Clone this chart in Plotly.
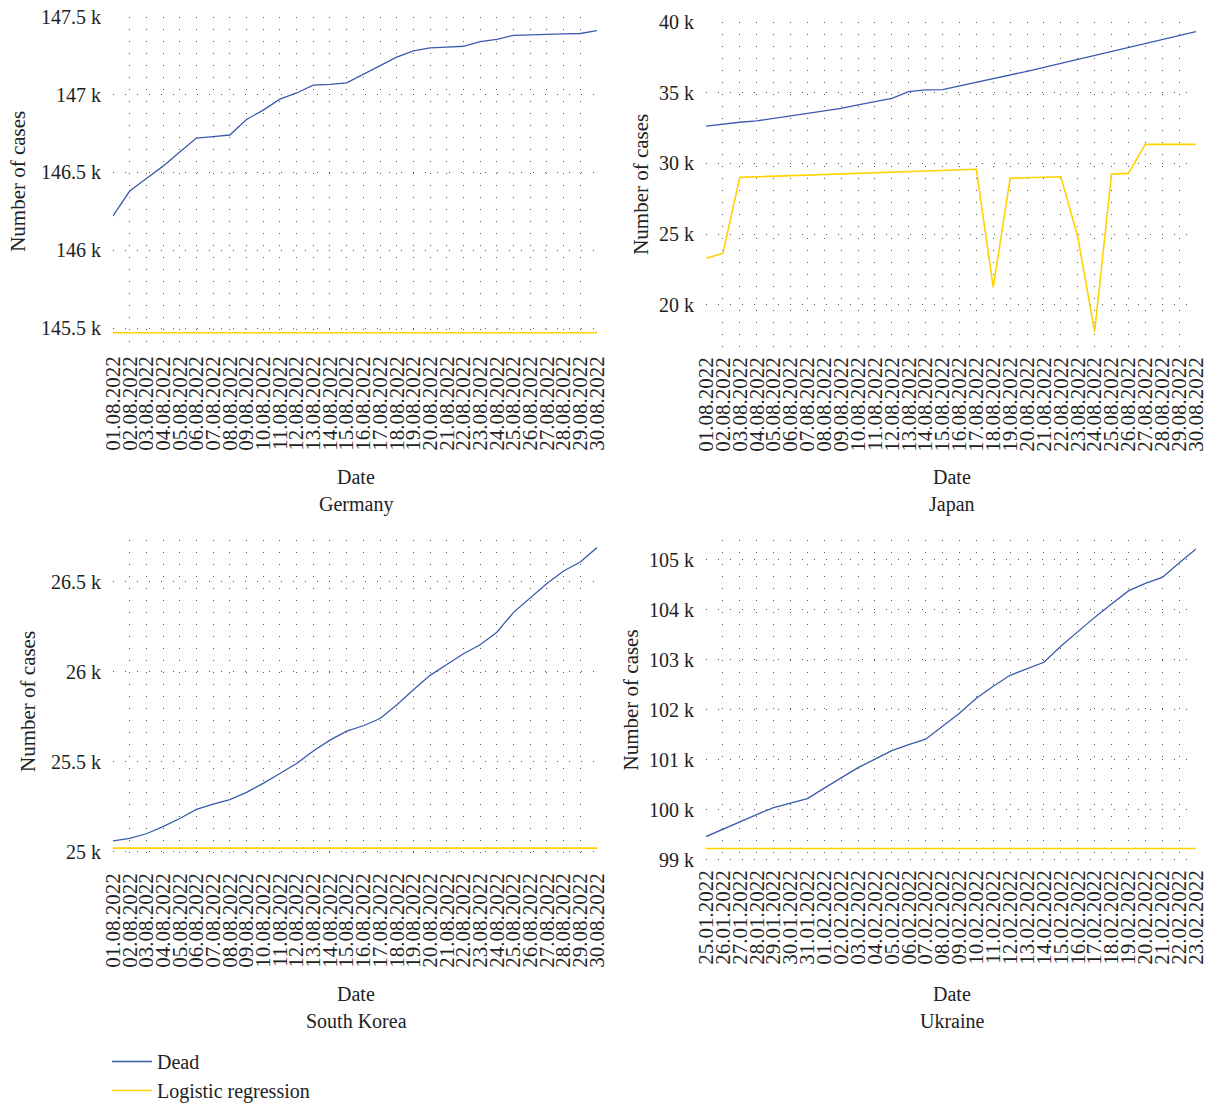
import plotly.graph_objects as go

# ---- data -------------------------------------------------------------
aug_dates = [f"{d:02d}.08.2022" for d in range(1, 31)]
ukr_dates = [f"{d:02d}.01.2022" for d in range(25, 32)] + [f"{d:02d}.02.2022" for d in range(1, 24)]

germany_dead = [146220, 146380, 146460, 146540, 146630, 146720, 146730, 146740, 146840, 146900,
                146970, 147010, 147060, 147065, 147075, 147130, 147190, 147240, 147280, 147300,
                147305, 147310, 147340, 147355, 147380, 147385, 147386, 147390, 147392, 147410]
germany_logit = [145470] * 30

japan_dead = [32630, 32780, 32900, 33000, 33180, 33340, 33530, 33700, 33880, 34120,
              34350, 34590, 35060, 35180, 35200, 35450, 35720, 36000, 36220, 36500,
              36780, 37060, 37340, 37620, 37900, 38180, 38460, 38740, 39020, 39300]
japan_logit = [23290, 23640, 29010, 29050, 29090, 29130, 29170, 29210, 29250, 29290,
               29330, 29370, 29410, 29450, 29500, 29540, 29580, 21240, 28940, 28980,
               29010, 29050, 24820, 18110, 29240, 29290, 31340, 31340, 31340, 31340]

korea_dead = [25060, 25074, 25100, 25140, 25185, 25235, 25265, 25290, 25330, 25380,
              25435, 25490, 25560, 25620, 25670, 25700, 25740, 25815, 25900, 25980,
              26040, 26100, 26150, 26220, 26330, 26410, 26490, 26560, 26610, 26690]
korea_logit = [25020] * 30

ukraine_dead = [99460, 99610, 99750, 99900, 100040, 100130, 100220, 100430, 100630, 100840,
                101010, 101180, 101300, 101410, 101670, 101930, 102230, 102470, 102690, 102820,
                102950, 103270, 103560, 103850, 104120, 104380, 104530, 104650, 104940, 105220]
ukraine_logit = [99220] * 30

germany_ticks = [145500, 146000, 146500, 147000, 147500]
germany_ticktext = ["145.5 k", "146 k", "146.5 k", "147 k", "147.5 k"]
japan_ticks = [20000, 25000, 30000, 35000, 40000]
japan_ticktext = ["20 k", "25 k", "30 k", "35 k", "40 k"]
korea_ticks = [25000, 25500, 26000, 26500]
korea_ticktext = ["25 k", "25.5 k", "26 k", "26.5 k"]
ukraine_ticks = [99000, 100000, 101000, 102000, 103000, 104000, 105000]
ukraine_ticktext = ["99 k", "100 k", "101 k", "102 k", "103 k", "104 k", "105 k"]

# ---- styling ----------------------------------------------------------
W, H = 1209, 1104
FONT = "Liberation Serif"
TEXT = "#222222"
BLUE = "#3a5aae"
YELLOW = "#ffd200"
GRID = "#5a5a5a"
DOTS = "1px,11px"


def px_x(p):
    return p / W


def px_y(p):
    return 1 - p / H


panels = [
    # name, dates, dead, logit, x-px span, y-px span, y-range, ticks, ticktext
    ("Germany", aug_dates, germany_dead, germany_logit, (113, 597), (16.7, 347),
     (145378, 147500), germany_ticks, germany_ticktext),
    ("Japan", aug_dates, japan_dead, japan_logit, (706, 1196), (21.7, 348),
     (16960, 40000), japan_ticks, japan_ticktext),
    ("South Korea", aug_dates, korea_dead, korea_logit, (113, 597), (540, 864),
     (24932, 26732), korea_ticks, korea_ticktext),
    ("Ukraine", ukr_dates, ukraine_dead, ukraine_logit, (706, 1196), (540, 861),
     (98970, 105400), ukraine_ticks, ukraine_ticktext),
]

ylabel_x = [18, 641, 28, 630]

fig = go.Figure()
layout = dict(
    width=W, height=H,
    margin=dict(l=0, r=0, t=0, b=0, autoexpand=False),
    paper_bgcolor="white", plot_bgcolor="white",
    font=dict(family=FONT, size=20, color=TEXT),
    showlegend=True,
    legend=dict(x=px_x(107), y=px_y(1042), xanchor="left", yanchor="top",
                font=dict(family=FONT, size=20, color=TEXT),
                bgcolor="rgba(0,0,0,0)", tracegroupgap=0, itemwidth=40),
)
annotations = []

for i, (name, dates, dead, logit, xs, ys, yr, tv, tt) in enumerate(panels):
    n = i + 1
    xa = "x" if n == 1 else f"x{n}"
    ya = "y" if n == 1 else f"y{n}"
    fig.add_trace(go.Scatter(x=dates, y=dead, mode="lines", name="Dead",
                             line=dict(color=BLUE, width=1.3),
                             legendgroup="dead", showlegend=(i == 0),
                             xaxis=xa, yaxis=ya))
    fig.add_trace(go.Scatter(x=dates, y=logit, mode="lines", name="Logistic regression",
                             line=dict(color=YELLOW, width=1.6),
                             legendgroup="logit", showlegend=(i == 0),
                             xaxis=xa, yaxis=ya))
    xkey = "xaxis" if n == 1 else f"xaxis{n}"
    ykey = "yaxis" if n == 1 else f"yaxis{n}"
    layout[xkey] = dict(
        domain=[px_x(xs[0]), px_x(xs[1])], anchor=ya, automargin=False,
        type="category", range=[0, 29], tickmode="linear", tick0=0, dtick=1,
        tickangle=-90,
        showgrid=True, gridcolor=GRID, griddash=DOTS, gridwidth=1,
        showline=False, zeroline=False, ticks="",
        tickfont=dict(family=FONT, size=21, color=TEXT),
        ticklabelstandoff=4,
    )
    layout[ykey] = dict(
        domain=[px_y(ys[1]), px_y(ys[0])], anchor=xa, automargin=False,
        range=list(yr), tickmode="array", tickvals=tv, ticktext=tt,
        showgrid=True, gridcolor=GRID, griddash=DOTS, gridwidth=1,
        showline=False, zeroline=False, ticks="",
        tickfont=dict(family=FONT, size=20, color=TEXT),
        ticklabelstandoff=11,
    )
    cx = (xs[0] + xs[1]) / 2
    row_top = 0 if i < 2 else 517
    # axis titles and panel name
    annotations.append(dict(text="Date", x=px_x(cx + 1), y=px_y(row_top + 477),
                            xref="paper", yref="paper", showarrow=False,
                            xanchor="center", yanchor="middle",
                            font=dict(family=FONT, size=20, color=TEXT)))
    annotations.append(dict(text=name, x=px_x(cx + 1), y=px_y(row_top + 504),
                            xref="paper", yref="paper", showarrow=False,
                            xanchor="center", yanchor="middle",
                            font=dict(family=FONT, size=20, color=TEXT)))
    annotations.append(dict(text="Number of cases", x=px_x(ylabel_x[i]),
                            y=px_y((ys[0] + ys[1]) / 2),
                            xref="paper", yref="paper", showarrow=False, textangle=-90,
                            xanchor="center", yanchor="middle",
                            font=dict(family=FONT, size=21, color=TEXT)))

layout["annotations"] = annotations
fig.update_layout(**layout)
fig.write_html("out.html")
